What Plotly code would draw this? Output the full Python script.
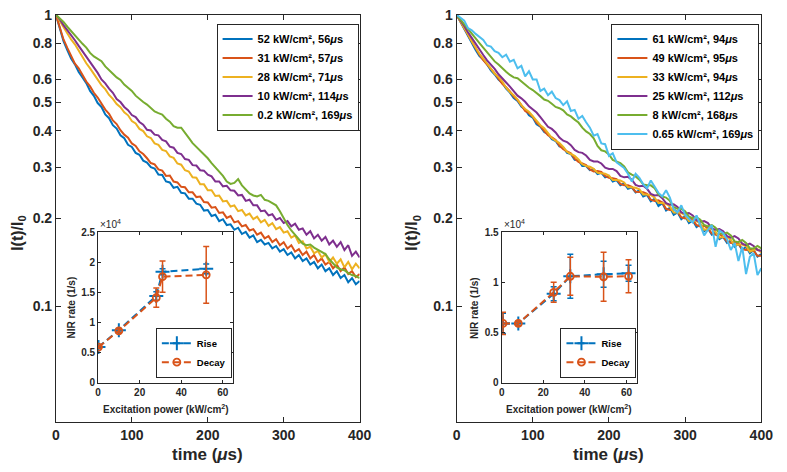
import plotly.graph_objects as go

# ---------------- data ----------------
time_us = list(range(0, 401, 5))

# Left panel
left_labels = ["52 kW/cm², 56<i>μ</i>s", "31 kW/cm², 57<i>μ</i>s", "28 kW/cm², 71<i>μ</i>s",
               "10 kW/cm², 114<i>μ</i>s", "0.2 kW/cm², 169<i>μ</i>s"]
L_52 = [1.0, 0.895, 0.812, 0.757, 0.708, 0.676, 0.637, 0.61, 0.583, 0.548, 0.527, 0.498, 0.483, 0.455,
        0.442, 0.418, 0.407, 0.386, 0.377, 0.358, 0.352, 0.336, 0.331, 0.316, 0.311, 0.3, 0.297, 0.283,
        0.282, 0.268, 0.266, 0.255, 0.257, 0.245, 0.244, 0.234, 0.234, 0.225, 0.223, 0.213, 0.214, 0.204,
        0.206, 0.196, 0.199, 0.19, 0.191, 0.183, 0.186, 0.177, 0.18, 0.172, 0.175, 0.166, 0.169, 0.163,
        0.165, 0.158, 0.161, 0.154, 0.157, 0.15, 0.153, 0.146, 0.15, 0.143, 0.146, 0.139, 0.142, 0.135,
        0.139, 0.132, 0.135, 0.128, 0.132, 0.125, 0.128, 0.121, 0.125, 0.119, 0.122]
L_31 = [1.0, 0.905, 0.823, 0.77, 0.722, 0.68, 0.655, 0.62, 0.59, 0.568, 0.54, 0.52, 0.497, 0.473, 0.457,
        0.434, 0.422, 0.402, 0.388, 0.379, 0.362, 0.355, 0.34, 0.333, 0.322, 0.31, 0.307, 0.295, 0.292,
        0.28, 0.281, 0.268, 0.266, 0.257, 0.256, 0.246, 0.246, 0.237, 0.238, 0.228, 0.227, 0.218, 0.219,
        0.209, 0.21, 0.201, 0.204, 0.194, 0.196, 0.188, 0.19, 0.182, 0.184, 0.176, 0.179, 0.171, 0.174,
        0.166, 0.17, 0.162, 0.166, 0.158, 0.162, 0.154, 0.157, 0.15, 0.154, 0.146, 0.15, 0.142, 0.146,
        0.139, 0.142, 0.135, 0.139, 0.132, 0.136, 0.129, 0.132, 0.126, 0.129]
L_28 = [1.0, 0.95, 0.902, 0.86, 0.823, 0.792, 0.752, 0.718, 0.682, 0.655, 0.626, 0.603, 0.574, 0.556,
        0.531, 0.515, 0.494, 0.482, 0.463, 0.452, 0.432, 0.424, 0.406, 0.399, 0.383, 0.378, 0.362, 0.358,
        0.344, 0.341, 0.327, 0.323, 0.309, 0.306, 0.293, 0.29, 0.277, 0.276, 0.262, 0.262, 0.25, 0.25,
        0.239, 0.24, 0.229, 0.23, 0.22, 0.222, 0.212, 0.214, 0.205, 0.208, 0.199, 0.203, 0.194, 0.198,
        0.189, 0.193, 0.184, 0.187, 0.179, 0.181, 0.172, 0.175, 0.165, 0.167, 0.158, 0.16, 0.152, 0.155,
        0.147, 0.151, 0.142, 0.147, 0.14, 0.145, 0.136, 0.142, 0.134, 0.14, 0.135]
L_10 = [1.0, 0.965, 0.922, 0.888, 0.848, 0.818, 0.782, 0.75, 0.714, 0.688, 0.655, 0.632, 0.6, 0.582,
        0.558, 0.54, 0.514, 0.502, 0.483, 0.471, 0.453, 0.446, 0.429, 0.42, 0.403, 0.401, 0.388, 0.386,
        0.372, 0.368, 0.353, 0.35, 0.336, 0.333, 0.32, 0.318, 0.305, 0.304, 0.293, 0.292, 0.283, 0.279,
        0.268, 0.268, 0.258, 0.259, 0.25, 0.249, 0.24, 0.241, 0.23, 0.232, 0.222, 0.222, 0.212, 0.213,
        0.205, 0.207, 0.198, 0.201, 0.193, 0.196, 0.188, 0.192, 0.183, 0.185, 0.176, 0.181, 0.171, 0.176,
        0.168, 0.173, 0.163, 0.168, 0.16, 0.166, 0.156, 0.162, 0.149, 0.154, 0.147]
L_02 = [1.0, 0.975, 0.945, 0.91, 0.878, 0.848, 0.82, 0.795, 0.772, 0.74, 0.72, 0.708, 0.693, 0.665,
        0.648, 0.628, 0.61, 0.598, 0.576, 0.56, 0.548, 0.528, 0.513, 0.502, 0.492, 0.478, 0.466, 0.46,
        0.455, 0.44, 0.43, 0.415, 0.41, 0.41, 0.392, 0.378, 0.363, 0.352, 0.344, 0.333, 0.322, 0.31,
        0.3, 0.29, 0.28, 0.268, 0.263, 0.265, 0.273, 0.26, 0.252, 0.244, 0.24, 0.238, 0.241, 0.232,
        0.23, 0.226, 0.222, 0.212, 0.2, 0.19, 0.182, 0.176, 0.171, 0.164, 0.162, 0.163, 0.159, 0.156,
        0.154, 0.151, 0.145, 0.14, 0.136, 0.134, 0.133, 0.13, 0.128, 0.127, 0.125]

# Right panel
right_labels = ["61 kW/cm², 94<i>μ</i>s", "49 kW/cm², 95<i>μ</i>s", "33 kW/cm², 94<i>μ</i>s",
                "25 kW/cm², 112<i>μ</i>s", "8 kW/cm², 168<i>μ</i>s", "0.65 kW/cm², 169<i>μ</i>s"]
R_61 = [1.0, 0.945, 0.893, 0.842, 0.8, 0.757, 0.722, 0.702, 0.676, 0.645, 0.624, 0.6, 0.584, 0.558,
        0.541, 0.518, 0.506, 0.484, 0.473, 0.452, 0.444, 0.421, 0.413, 0.396, 0.39, 0.374, 0.369, 0.354,
        0.351, 0.336, 0.333, 0.318, 0.317, 0.303, 0.303, 0.293, 0.295, 0.284, 0.287, 0.277, 0.28, 0.268,
        0.271, 0.26, 0.264, 0.253, 0.256, 0.246, 0.25, 0.238, 0.241, 0.229, 0.234, 0.221, 0.226, 0.213,
        0.218, 0.206, 0.21, 0.199, 0.204, 0.193, 0.197, 0.187, 0.191, 0.181, 0.185, 0.176, 0.179, 0.17,
        0.173, 0.165, 0.168, 0.16, 0.164, 0.156, 0.16, 0.152, 0.156, 0.148, 0.151]
R_49 = [1.0, 0.948, 0.9, 0.848, 0.806, 0.765, 0.73, 0.699, 0.672, 0.652, 0.63, 0.604, 0.58, 0.564,
        0.546, 0.524, 0.51, 0.49, 0.468, 0.46, 0.447, 0.427, 0.415, 0.4, 0.386, 0.38, 0.372, 0.356, 0.346,
        0.34, 0.335, 0.321, 0.313, 0.309, 0.305, 0.295, 0.29, 0.291, 0.289, 0.28, 0.276, 0.275, 0.273,
        0.263, 0.26, 0.26, 0.257, 0.247, 0.246, 0.246, 0.243, 0.232, 0.23, 0.231, 0.227, 0.216, 0.214,
        0.215, 0.211, 0.202, 0.2, 0.202, 0.198, 0.19, 0.188, 0.189, 0.185, 0.178, 0.176, 0.177, 0.173,
        0.167, 0.165, 0.166, 0.164, 0.157, 0.156, 0.157, 0.155, 0.149, 0.149]
R_33 = [1.0, 0.952, 0.905, 0.855, 0.81, 0.77, 0.735, 0.708, 0.68, 0.65, 0.628, 0.612, 0.59, 0.562,
        0.543, 0.53, 0.512, 0.49, 0.475, 0.465, 0.448, 0.43, 0.418, 0.408, 0.392, 0.378, 0.37, 0.363,
        0.352, 0.339, 0.333, 0.328, 0.319, 0.307, 0.303, 0.301, 0.296, 0.287, 0.286, 0.285, 0.281, 0.271,
        0.271, 0.27, 0.266, 0.256, 0.256, 0.255, 0.252, 0.242, 0.242, 0.241, 0.236, 0.226, 0.226, 0.225,
        0.22, 0.21, 0.21, 0.209, 0.205, 0.196, 0.197, 0.196, 0.192, 0.183, 0.184, 0.184, 0.18, 0.172,
        0.173, 0.173, 0.169, 0.162, 0.163, 0.163, 0.161, 0.154, 0.156, 0.157, 0.153]
R_25 = [1.0, 0.958, 0.915, 0.87, 0.83, 0.797, 0.762, 0.728, 0.698, 0.676, 0.652, 0.625, 0.603, 0.586,
        0.567, 0.545, 0.528, 0.517, 0.503, 0.485, 0.473, 0.462, 0.446, 0.427, 0.413, 0.406, 0.395, 0.379,
        0.37, 0.366, 0.357, 0.344, 0.338, 0.336, 0.329, 0.318, 0.314, 0.314, 0.309, 0.299, 0.296, 0.296,
        0.291, 0.28, 0.277, 0.278, 0.272, 0.261, 0.258, 0.259, 0.253, 0.243, 0.24, 0.241, 0.235, 0.226,
        0.223, 0.224, 0.219, 0.21, 0.208, 0.209, 0.205, 0.197, 0.195, 0.196, 0.193, 0.185, 0.183, 0.184,
        0.181, 0.174, 0.172, 0.174, 0.171, 0.164, 0.162, 0.164, 0.161, 0.156, 0.155]
R_8 = [1.0, 0.965, 0.93, 0.895, 0.86, 0.83, 0.8, 0.77, 0.742, 0.715, 0.692, 0.675, 0.655, 0.638, 0.622,
       0.61, 0.606, 0.59, 0.578, 0.562, 0.552, 0.54, 0.526, 0.512, 0.507, 0.495, 0.483, 0.478, 0.47,
       0.455, 0.448, 0.437, 0.427, 0.41, 0.398, 0.39, 0.377, 0.355, 0.343, 0.34, 0.332, 0.318, 0.313,
       0.31, 0.302, 0.288, 0.283, 0.279, 0.272, 0.262, 0.26, 0.26, 0.254, 0.242, 0.238, 0.236, 0.23,
       0.219, 0.216, 0.216, 0.212, 0.203, 0.201, 0.202, 0.198, 0.19, 0.188, 0.19, 0.186, 0.178, 0.177,
       0.179, 0.175, 0.167, 0.166, 0.169, 0.165, 0.158, 0.158, 0.161, 0.158]
R_065 = [1.0, 0.98, 0.955, 0.9, 0.885, 0.86, 0.84, 0.82, 0.785, 0.778, 0.75, 0.74, 0.715, 0.73, 0.69,
         0.7, 0.655, 0.668, 0.615, 0.64, 0.6, 0.6, 0.548, 0.558, 0.53, 0.545, 0.518, 0.51, 0.49, 0.505,
         0.468, 0.472, 0.44, 0.45, 0.428, 0.41, 0.385, 0.39, 0.362, 0.36, 0.328, 0.335, 0.312, 0.305,
         0.298, 0.285, 0.268, 0.285, 0.276, 0.262, 0.254, 0.27, 0.258, 0.245, 0.238, 0.25, 0.236, 0.215,
         0.21, 0.222, 0.206, 0.2, 0.194, 0.205, 0.19, 0.175, 0.183, 0.19, 0.16, 0.182, 0.178, 0.17, 0.156,
         0.165, 0.143, 0.16, 0.129, 0.148, 0.152, 0.128, 0.135]

# Insets: NIR rate (units of 1e4 1/s) vs excitation power (kW/cm^2)
powerL = [0.2, 10, 28, 31, 52]
riseL = [0.59, 0.87, 1.44, 1.84, 1.89]
riseL_err = [0.02, 0.03, 0.07, 0.05, 0.08]
decayL = [0.59, 0.86, 1.41, 1.76, 1.79]
decayL_err = [0.02, 0.03, 0.16, 0.26, 0.47]

powerR = [0.65, 8, 25, 33, 49, 61]
riseR = [0.59, 0.59, 0.885, 1.06, 1.08, 1.09]
riseR_err = [0.1, 0.02, 0.07, 0.22, 0.13, 0.08]
decayR = [0.59, 0.59, 0.90, 1.06, 1.055, 1.06]
decayR_err = [0.11, 0.02, 0.1, 0.19, 0.245, 0.165]

main_yticks = [0.1, 0.2, 0.3, 0.4, 0.5, 0.6, 0.8, 1]
main_yticktext = ["0.1", "0.2", "0.3", "0.4", "0.5", "0.6", "0.8", "1"]

# ---------------- style ----------------
W, H = 787, 472
COLORS = ["#0072BD", "#D95319", "#EDB120", "#7E2F8E", "#77AC30", "#4DBEEE"]
FONT = "Liberation Sans, Arial, Helvetica, sans-serif"
AX = "#262626"

def fx(px):
    return px / W

def fy(py):
    return 1 - py / H

fig = go.Figure()

for vals, lab, col in zip([L_52, L_31, L_28, L_10, L_02], left_labels, COLORS):
    fig.add_trace(go.Scatter(x=time_us, y=vals, mode="lines", name=lab,
                             line=dict(color=col, width=2), xaxis="x", yaxis="y",
                             legend="legend"))
for vals, lab, col in zip([R_61, R_49, R_33, R_25, R_8, R_065], right_labels, COLORS):
    fig.add_trace(go.Scatter(x=time_us, y=vals, mode="lines", name=lab,
                             line=dict(color=col, width=2), xaxis="x2", yaxis="y2",
                             legend="legend2"))

def inset(px, rise, rerr, dec, derr, xa, ya, lg):
    fig.add_trace(go.Scatter(x=px, y=rise, mode="lines+markers", name="Rise",
                             line=dict(color=COLORS[0], width=2, dash="7px,4px"),
                             marker=dict(symbol="cross-thin", size=10,
                                         line=dict(color=COLORS[0], width=2)),
                             error_y=dict(type="data", array=rerr, color=COLORS[0],
                                          thickness=1.5, width=3),
                             xaxis=xa, yaxis=ya, legend=lg))
    fig.add_trace(go.Scatter(x=px, y=dec, mode="lines+markers", name="Decay",
                             line=dict(color=COLORS[1], width=2, dash="7px,4px"),
                             marker=dict(symbol="circle-open", size=7, color=COLORS[1],
                                         line=dict(color=COLORS[1], width=1.8)),
                             error_y=dict(type="data", array=derr, color=COLORS[1],
                                          thickness=1.5, width=3),
                             xaxis=xa, yaxis=ya, legend=lg))

inset(powerL, riseL, riseL_err, decayL, decayL_err, "x3", "y3", "legend3")
inset(powerR, riseR, riseR_err, decayR, decayR_err, "x4", "y4", "legend4")

main_x = dict(range=[0, 400], tickvals=[0, 100, 200, 300, 400], ticks="inside", ticklen=5,
              showline=True, linecolor=AX, linewidth=1, mirror="ticks", tickcolor=AX,
              showgrid=False, zeroline=False,
              tickfont=dict(family=FONT, size=14, color=AX, weight="bold"))
main_y = dict(type="log", range=[-1.398, 0], tickvals=main_yticks, ticktext=main_yticktext,
              ticks="inside", ticklen=5, showline=True, linecolor=AX, linewidth=1,
              mirror="ticks", tickcolor=AX, showgrid=False, zeroline=False,
              tickfont=dict(family=FONT, size=14, color=AX, weight="bold"))
ins_x = dict(range=[0, 65], tickvals=[0, 20, 40, 60], ticks="inside", ticklen=3,
             showline=True, linecolor=AX, linewidth=1, mirror="ticks", tickcolor=AX,
             showgrid=False, zeroline=False,
             tickfont=dict(family=FONT, size=10, color=AX, weight="bold"))
ins_y = dict(ticks="inside", ticklen=3, showline=True, linecolor=AX, linewidth=1,
             mirror="ticks", tickcolor=AX, showgrid=False, zeroline=False,
             tickfont=dict(family=FONT, size=10, color=AX, weight="bold"))

def leg(x, y, size, yanchor="top"):
    return dict(x=fx(x), y=fy(y), xanchor="left", yanchor=yanchor, bgcolor="white",
                bordercolor=AX, borderwidth=1, tracegroupgap=0,
                font=dict(family=FONT, size=size, color="black", weight="bold"))

fig.update_layout(
    width=W, height=H, margin=dict(l=0, r=0, t=0, b=0),
    paper_bgcolor="white", plot_bgcolor="rgba(0,0,0,0)",
    xaxis=dict(main_x, domain=[fx(53), fx(363)], anchor="y"),
    yaxis=dict(main_y, domain=[fy(427), fy(7)], anchor="x"),
    xaxis2=dict(main_x, domain=[fx(462), fx(773)], anchor="y2"),
    yaxis2=dict(main_y, domain=[fy(427), fy(7)], anchor="x2"),
    xaxis3=dict(ins_x, domain=[fx(96), fx(234)], anchor="y3"),
    yaxis3=dict(ins_y, domain=[fy(386), fy(231)], anchor="x3", range=[0, 2.5],
                tickvals=[0, 0.5, 1, 1.5, 2, 2.5]),
    xaxis4=dict(ins_x, domain=[fx(508), fx(646)], anchor="y4"),
    yaxis4=dict(ins_y, domain=[fy(386), fy(231)], anchor="x4", range=[0, 1.5],
                tickvals=[0, 0.5, 1, 1.5]),
    legend=leg(217, 16, 11),
    legend2=leg(620, 16, 11),
    legend3=leg(155, 381, 9.5, "bottom"),
    legend4=leg(568, 381, 9.5, "bottom"),
)

for x0, x1 in [(96, 234), (508, 646)]:
    fig.add_shape(type="rect", xref="paper", yref="paper", x0=fx(x0), x1=fx(x1),
                  y0=fy(386), y1=fy(231), fillcolor="white", line=dict(width=0), layer="below")

ann = []
tfont = dict(family=FONT, size=17, color=AX, weight="bold")
for cx in [208, 617]:
    ann.append(dict(x=fx(cx), y=fy(460), text="time (<i>μ</i>s)", font=tfont))
for cx in [14, 417]:
    ann.append(dict(x=fx(cx), y=fy(232), text="I(t)/I<sub>0</sub>", textangle=-90,
                    font=dict(family=FONT, size=16, color=AX, weight="bold")))
sfont = dict(family=FONT, size=10, color=AX, weight="bold")
for cx in [165, 577]:
    ann.append(dict(x=fx(cx), y=fy(413), text="Excitation power (kW/cm<sup>2</sup>)", font=sfont))
for cx in [69, 481]:
    ann.append(dict(x=fx(cx), y=fy(309), text="NIR rate (1/s)", textangle=-90, font=sfont))
for cx in [96, 508]:
    ann.append(dict(x=fx(cx), y=fy(231), text="×10<sup>4</sup>", xanchor="left",
                    yanchor="bottom", font=dict(family=FONT, size=10, color=AX)))
for a in ann:
    a.setdefault("xanchor", "center")
    a.setdefault("yanchor", "middle")
    a.update(xref="paper", yref="paper", showarrow=False)
fig.update_layout(annotations=ann)

fig.write_html("out.html", config={"displayModeBar": False},
               post_script="document.body.style.margin='0px';")
